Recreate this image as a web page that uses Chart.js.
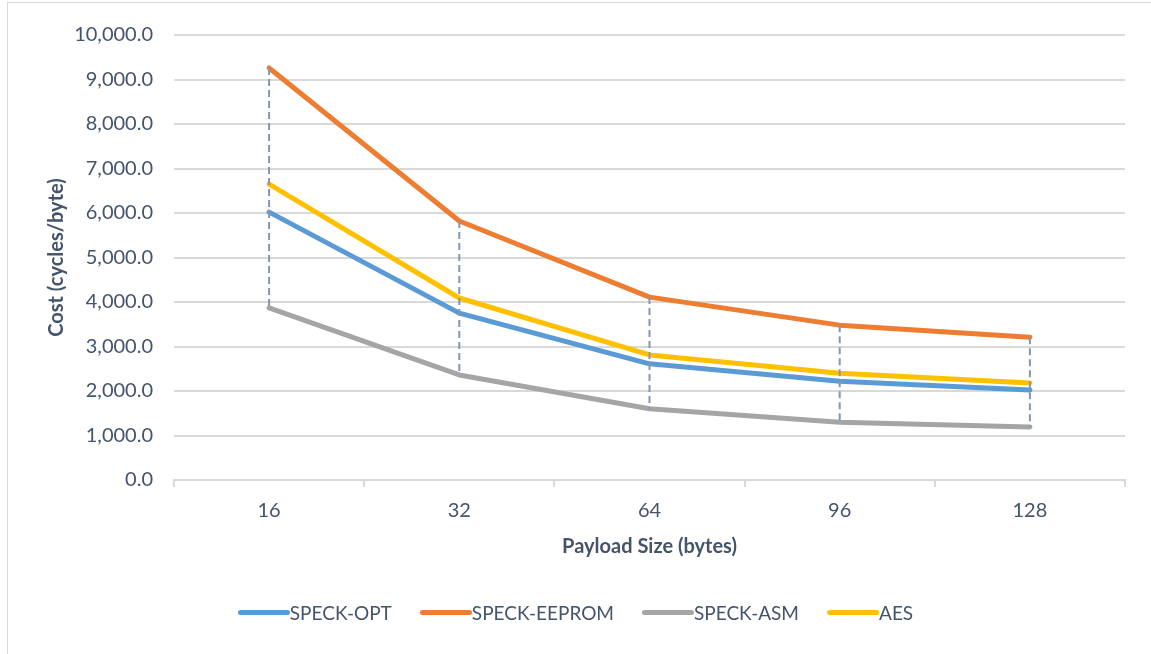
<!DOCTYPE html>
<html>
<head>
<meta charset="utf-8">
<script src="https://cdn.jsdelivr.net/npm/chart.js@4/dist/chart.umd.min.js"></script>
<style>
  html, body { margin: 0; padding: 0; background: #fff; overflow: hidden; }
  #wrap { position: relative; width: 1151px; height: 654px; }
  #frame { position: absolute; left: 7px; top: 2px; width: 1200px; height: 700px; border: 1px solid #D9D9D9; }
  #chart { position: absolute; left: 0; top: 0; }
  #legend { position: absolute; left: 0; top: 601px; width: 1151px; display: flex; justify-content: center;
            font-family: Lato, sans-serif; font-size: 19px; color: #44546A; }
  #legend .item { display: flex; align-items: center; margin: 0 14px; }
  #legend .swatch { width: 52px; height: 5px; border-radius: 3px; }
</style>
</head>
<body>
<div id="wrap">
  <div id="frame"></div>
  <canvas id="chart" width="1151" height="654"></canvas>
  <div id="legend"></div>
</div>
<script>
// payload sizes (bytes)
const categories = ['16', '32', '64', '96', '128'];

// cost in cycles per byte
const speckOpt    = [6020, 3750, 2610, 2220, 2020];
const speckEeprom = [9260, 5820, 4110, 3480, 3210];
const speckAsm    = [3870, 2360, 1600, 1300, 1190];
const aes         = [6650, 4090, 2810, 2400, 2180];

const textColor = '#44546A';
const gridColor = '#D9D9D9';

/* high-low lines: dashed line from the top series to the bottom one at each category */
const highLow = {
  id: 'highLow',
  afterDatasetsDraw(chart) {
    const { ctx, scales: { x, y } } = chart;
    const sets = chart.data.datasets;
    ctx.save();
    ctx.strokeStyle = '#8497B0';
    ctx.lineWidth = 2;
    ctx.setLineDash([7, 4]);
    categories.forEach((c, i) => {
      const vals = sets.map(s => s.data[i]);
      const px = x.getPixelForValue(i);
      ctx.beginPath();
      ctx.moveTo(px, y.getPixelForValue(Math.max(...vals)));
      ctx.lineTo(px, y.getPixelForValue(Math.min(...vals)));
      ctx.stroke();
    });
    ctx.restore();
  }
};

const mkSet = (label, data, color) => ({
  label, data,
  borderColor: color,
  backgroundColor: color,
  borderWidth: 5,
  borderCapStyle: 'round',
  borderJoinStyle: 'round',
  pointRadius: 0,
  tension: 0,
  fill: false
});

const chart = new Chart(document.getElementById('chart'), {
  type: 'line',
  data: {
    labels: categories,
    datasets: [
      mkSet('SPECK-OPT', speckOpt, '#5B9BD5'),
      mkSet('SPECK-EEPROM', speckEeprom, '#ED7D31'),
      mkSet('SPECK-ASM', speckAsm, '#A5A5A5'),
      mkSet('AES', aes, '#FFC000')
    ]
  },
  options: {
    responsive: false,
    animation: false,
    layout: { padding: { left: 0, top: 35, right: 26, bottom: 0 } },
    plugins: { legend: { display: false }, tooltip: { enabled: false } },
    scales: {
      x: {
        offset: true,
        afterFit: s => { s.height = 174; },
        grid: { offset: true, drawOnChartArea: false, drawTicks: true, tickLength: 7, color: gridColor, lineWidth: 2 },
        border: { color: gridColor, width: 2 },
        ticks: { color: textColor, padding: 12, font: { family: 'Lato', size: 20 } },
        title: { display: true, text: 'Payload Size (bytes)', color: textColor,
                 font: { family: 'Lato', size: 20, weight: 'bold' }, padding: { top: 0, bottom: 95 } }
      },
      y: {
        min: 0, max: 10000,
        afterFit: s => { s.width = 174; },
        grid: { color: gridColor, lineWidth: 2, drawTicks: false },
        border: { display: false },
        ticks: {
          stepSize: 1000, color: textColor, padding: 21, font: { family: 'Lato', size: 20 },
          callback: v => v.toLocaleString('en-US', { minimumFractionDigits: 1, maximumFractionDigits: 1 })
        },
        title: { display: true, text: 'Cost (cycles/byte)', color: textColor,
                 font: { family: 'Lato', size: 20, weight: 'bold' }, padding: { top: 45 } }
      }
    }
  },
  plugins: [highLow]
});

// legend built from the datasets
const legend = document.getElementById('legend');
chart.data.datasets.forEach(ds => {
  const item = document.createElement('div');
  item.className = 'item';
  const sw = document.createElement('span');
  sw.className = 'swatch';
  sw.style.background = ds.borderColor;
  const t = document.createElement('span');
  t.textContent = ds.label;
  item.appendChild(sw);
  item.appendChild(t);
  legend.appendChild(item);
});
</script>
</body>
</html>
